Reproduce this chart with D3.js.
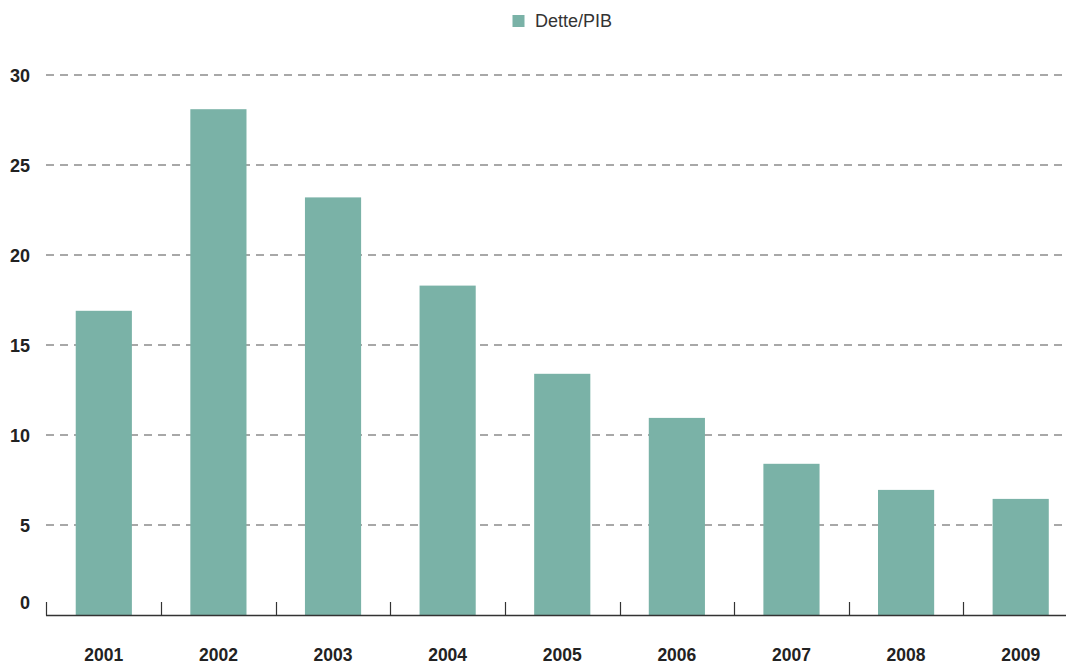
<!DOCTYPE html>
<html><head><meta charset="utf-8">
<script src="https://cdn.jsdelivr.net/npm/d3@7"></script>
<style>body{margin:0;background:#fff;}svg{display:block;font-family:"Liberation Sans",Arial,Helvetica,sans-serif;}</style>
</head><body>
<svg id="c" width="1066" height="662"></svg>
<script>
const categories = ["2001","2002","2003","2004","2005","2006","2007","2008","2009"];
const values = [16.9, 28.1, 23.2, 18.3, 13.4, 10.95, 8.4, 6.95, 6.45];
const yTicks = [0,5,10,15,20,25,30];
const seriesName = "Dette/PIB";
const color = "#7ab2a7";

const svg = d3.select("#c");
const x = d3.scaleBand().domain(categories).range([46.5, 1078]).paddingInner(0.51).paddingOuter(0.255);
const y = d3.scaleLinear().domain([0,30]).range([615, 75]);

// gridlines
svg.append("g").selectAll("line").data(yTicks.filter(d=>d>0)).join("line")
  .attr("x1",46).attr("x2",1066).attr("y1",d=>y(d)).attr("y2",d=>y(d))
  .attr("stroke","#8c8c8c").attr("stroke-width",1.5).attr("stroke-dasharray","8,6");

// bars
svg.append("g").selectAll("rect").data(categories).join("rect")
  .attr("x",d=>x(d)).attr("width",x.bandwidth())
  .attr("y",(d,i)=>y(values[i])).attr("height",(d,i)=>y(0)-y(values[i]))
  .attr("fill",color);

// x axis line and ticks
const step = x.step();
svg.append("line").attr("x1",46).attr("x2",1066).attr("y1",615.5).attr("y2",615.5).attr("stroke","#333").attr("stroke-width",1.3);
svg.append("g").selectAll("line").data(categories).join("line")
  .attr("x1",d=>Math.round(x(d)-step*x.paddingInner()/2)+0.5)
  .attr("x2",d=>Math.round(x(d)-step*x.paddingInner()/2)+0.5)
  .attr("y1",602).attr("y2",615.5).attr("stroke","#333").attr("stroke-width",1.2);

// x labels
svg.append("g").selectAll("text").data(categories).join("text")
  .attr("x",d=>x(d)+x.bandwidth()/2).attr("y",660.5).attr("text-anchor","middle")
  .attr("font-size",17.5).attr("font-weight","bold").attr("fill","#222").text(d=>d);

// y labels
svg.append("g").selectAll("text").data(yTicks).join("text")
  .attr("x",30).attr("y",d=> d===0 ? 609 : y(d)+6.5).attr("text-anchor","end")
  .attr("font-size",18).attr("font-weight","bold").attr("fill","#222").text(d=>d);

// legend
svg.append("rect").attr("x",512.5).attr("y",15).attr("width",12).attr("height",12).attr("fill",color);
svg.append("text").attr("x",535).attr("y",27).attr("font-size",18).attr("fill","#333").text(seriesName);
</script>
</body></html>
